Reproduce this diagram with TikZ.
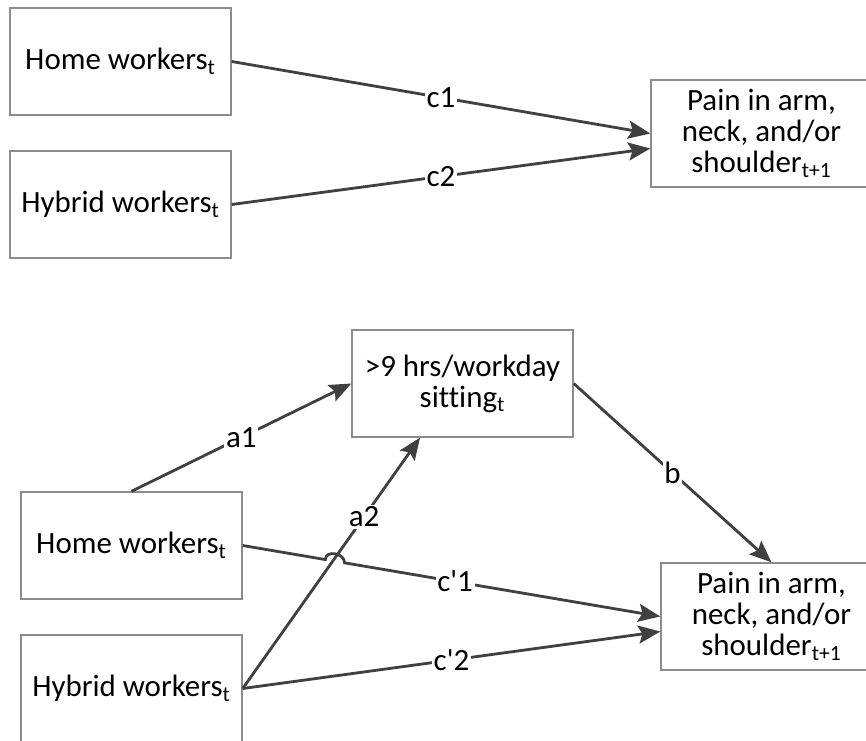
\documentclass[tikz,border=0pt]{standalone}
\usepackage{fontspec}
\setmainfont{Carlito}[Ligatures=CommonOff]
\usetikzlibrary{arrows.meta}
\definecolor{linegray}{HTML}{404040}
\definecolor{boxgray}{HTML}{8C8C8C}
\tikzset{
  box/.style={draw=boxgray, line width=0.8pt, minimum width=4.42cm, minimum height=2.14cm,
    align=center, inner sep=0pt, font=\fontsize{17.6}{17.6}\selectfont},
  link/.style={draw=linegray, line width=1.6pt, ->},
  lbl/.style={fill=white, inner sep=1pt, font=\fontsize{17.6}{17.6}\selectfont}
}
\begin{document}
\begin{tikzpicture}[>={Stealth[length=4.4mm,width=3.6mm,inset=0.8mm]}]
 \useasboundingbox (0,0) rectangle (17.32,-14.8);
 \clip (0,0) rectangle (17.32,-14.8);
 \node[box] (home1) at (2.41,-1.23) {Home workers\textsubscript{t}};
 \node[box] (hyb1) at (2.41,-4.09) {Hybrid workers\textsubscript{t}};
 \node[box] (pain1) at (15.23,-2.67) {Pain in arm,\\neck, and/or\\shoulder\textsubscript{t+1}};
 \draw[link] (home1.east) -- node[lbl] {c1} (pain1.west);
 \draw[link] (hyb1.east) -- node[lbl] {c2} ([yshift=-3mm]pain1.west);

 \node[box] (sit) at (9.25,-7.67) {>9 hrs/workday\\sitting\textsubscript{t}};
 \node[box] (home2) at (2.63,-10.91) {Home workers\textsubscript{t}};
 \node[box] (hyb2) at (2.63,-13.77) {Hybrid workers\textsubscript{t}};
 \node[box] (pain2) at (15.43,-12.33) {Pain in arm,\\neck, and/or\\shoulder\textsubscript{t+1}};
 \path (home2.east) -- coordinate[pos=0.198] (hopa) coordinate[pos=0.244] (hopb) (pain2.west);
 \draw[link] (home2.north) -- node[lbl] {a1} (sit.west);
 \draw[link] (hyb2.east) -- node[lbl,pos=0.685] {a2} ([xshift=-8.5mm]sit.south);
 \draw[link] (sit.east) -- node[lbl] {b} (pain2.north);
 \draw[link] (home2.east) -- (hopa) to[out=90,in=90,looseness=1.3] (hopb)
   -- node[lbl,pos=0.35] {c\textquotesingle1} (pain2.west);
 \draw[link] (hyb2.east) -- node[lbl] {c\textquotesingle2} ([yshift=-3mm]pain2.west);
\end{tikzpicture}
\end{document}
